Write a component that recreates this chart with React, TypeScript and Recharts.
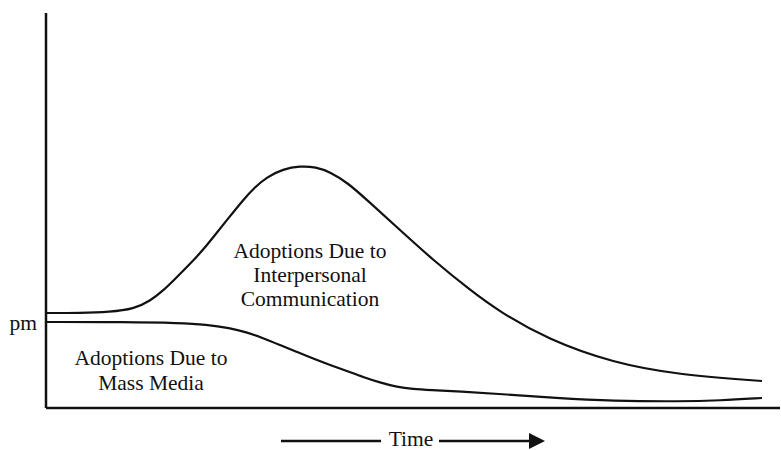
import React from "react";
import {
  LineChart,
  Line,
  XAxis,
  YAxis,
  ReferenceDot,
} from "recharts";

// time runs 0..734, adoptions 0..395 (arbitrary units)
const interpersonalTime = [0, 34, 64, 88, 104, 118, 131, 144, 157, 169, 181, 197, 209, 221, 237, 254, 270, 284, 302, 321, 354, 387, 424, 454, 501, 567, 634, 716];
const interpersonalAdoptions = [95, 95, 96, 99, 107, 118, 131, 144, 158, 173, 188, 208, 221, 231, 239, 242, 241, 236, 225, 208, 178, 148, 118, 96, 69, 45, 33, 27];

const massMediaTime = [0, 80, 134, 160, 184, 200, 217, 234, 251, 268, 284, 301, 317, 334, 351, 367, 384, 414, 454, 510, 567, 634, 674, 716];
const massMediaAdoptions = [86, 86, 85, 83.5, 80, 76, 70, 63, 56, 49, 43, 37, 31, 25.5, 21, 19, 18, 16.5, 14, 10, 7, 6.5, 7.5, 10];

const pmLevel = 86;
const interpersonalLabel = ["Adoptions Due to", "Interpersonal", "Communication"];
const massMediaLabel = ["Adoptions Due to", "Mass Media"];

const interpersonalData = interpersonalTime.map((t, i) => ({ t, v: interpersonalAdoptions[i] }));
const massMediaData = massMediaTime.map((t, i) => ({ t, v: massMediaAdoptions[i] }));

const FONT = "'Liberation Serif', 'Times New Roman', serif";
const INK = "#111";

// multi-line text centred on a reference point
const blockLabel = (lines: string[], gap: number) => (props: any) => {
  const { viewBox } = props;
  const cx = viewBox.cx ?? viewBox.x;
  const cy = viewBox.cy ?? viewBox.y;
  const start = cy - ((lines.length - 1) * gap) / 2;
  return (
    <text x={cx} textAnchor="middle" fontFamily={FONT} fontSize={21.5} fill={INK}>
      {lines.map((l, i) => (
        <tspan key={i} x={cx} y={start + i * gap} dominantBaseline="central">
          {l}
        </tspan>
      ))}
    </text>
  );
};

const TimeLabel = (props: any) => {
  const { viewBox } = props;
  const cx = viewBox.x + viewBox.width / 2 - 2;
  const ly = viewBox.y + 33;
  return (
    <g>
      <line x1={cx - 130} x2={cx - 30} y1={ly} y2={ly} stroke={INK} strokeWidth={2.5} />
      <text x={cx} y={ly - 2} textAnchor="middle" dominantBaseline="central" fontFamily={FONT} fontSize={21.5} fill={INK}>
        Time
      </text>
      <line x1={cx + 28} x2={cx + 122} y1={ly} y2={ly} stroke={INK} strokeWidth={2.5} />
      <path d={`M${cx + 118},${ly - 8} L${cx + 134},${ly} L${cx + 118},${ly + 8} Z`} fill={INK} />
    </g>
  );
};

export default function App() {
  return (
    <div style={{ width: 781, height: 450, background: "#fff" }}>
      <style>{`body{margin:0}`}</style>
      <LineChart width={781} height={450} margin={{ top: 13, right: 1, left: 0, bottom: 0 }}>
        <XAxis
          type="number"
          dataKey="t"
          domain={[0, 734]}
          ticks={[]}
          tick={false}
          tickLine={false}
          height={42}
          axisLine={{ stroke: INK, strokeWidth: 2.5 }}
          allowDataOverflow
          label={<TimeLabel />}
        />
        <YAxis
          type="number"
          dataKey="v"
          domain={[0, 395]}
          ticks={[pmLevel]}
          tickFormatter={() => "pm"}
          tickLine={false}
          tickSize={0}
          tickMargin={9}
          width={46}
          axisLine={{ stroke: INK, strokeWidth: 2.5 }}
          tick={{ fill: INK, fontFamily: FONT, fontSize: 21.5 }}
        />
        <Line
          data={interpersonalData}
          dataKey="v"
          type="basis"
          stroke={INK}
          strokeWidth={2.2}
          dot={false}
          isAnimationActive={false}
        />
        <Line
          data={massMediaData}
          dataKey="v"
          type="basis"
          stroke={INK}
          strokeWidth={2.2}
          dot={false}
          isAnimationActive={false}
        />
        <ReferenceDot
          x={264}
          y={133}
          r={0}
          fill="none"
          stroke="none"
          label={blockLabel(interpersonalLabel, 24)}
        />
        <ReferenceDot
          x={105}
          y={38}
          r={0}
          fill="none"
          stroke="none"
          label={blockLabel(massMediaLabel, 25)}
        />
      </LineChart>
    </div>
  );
}
